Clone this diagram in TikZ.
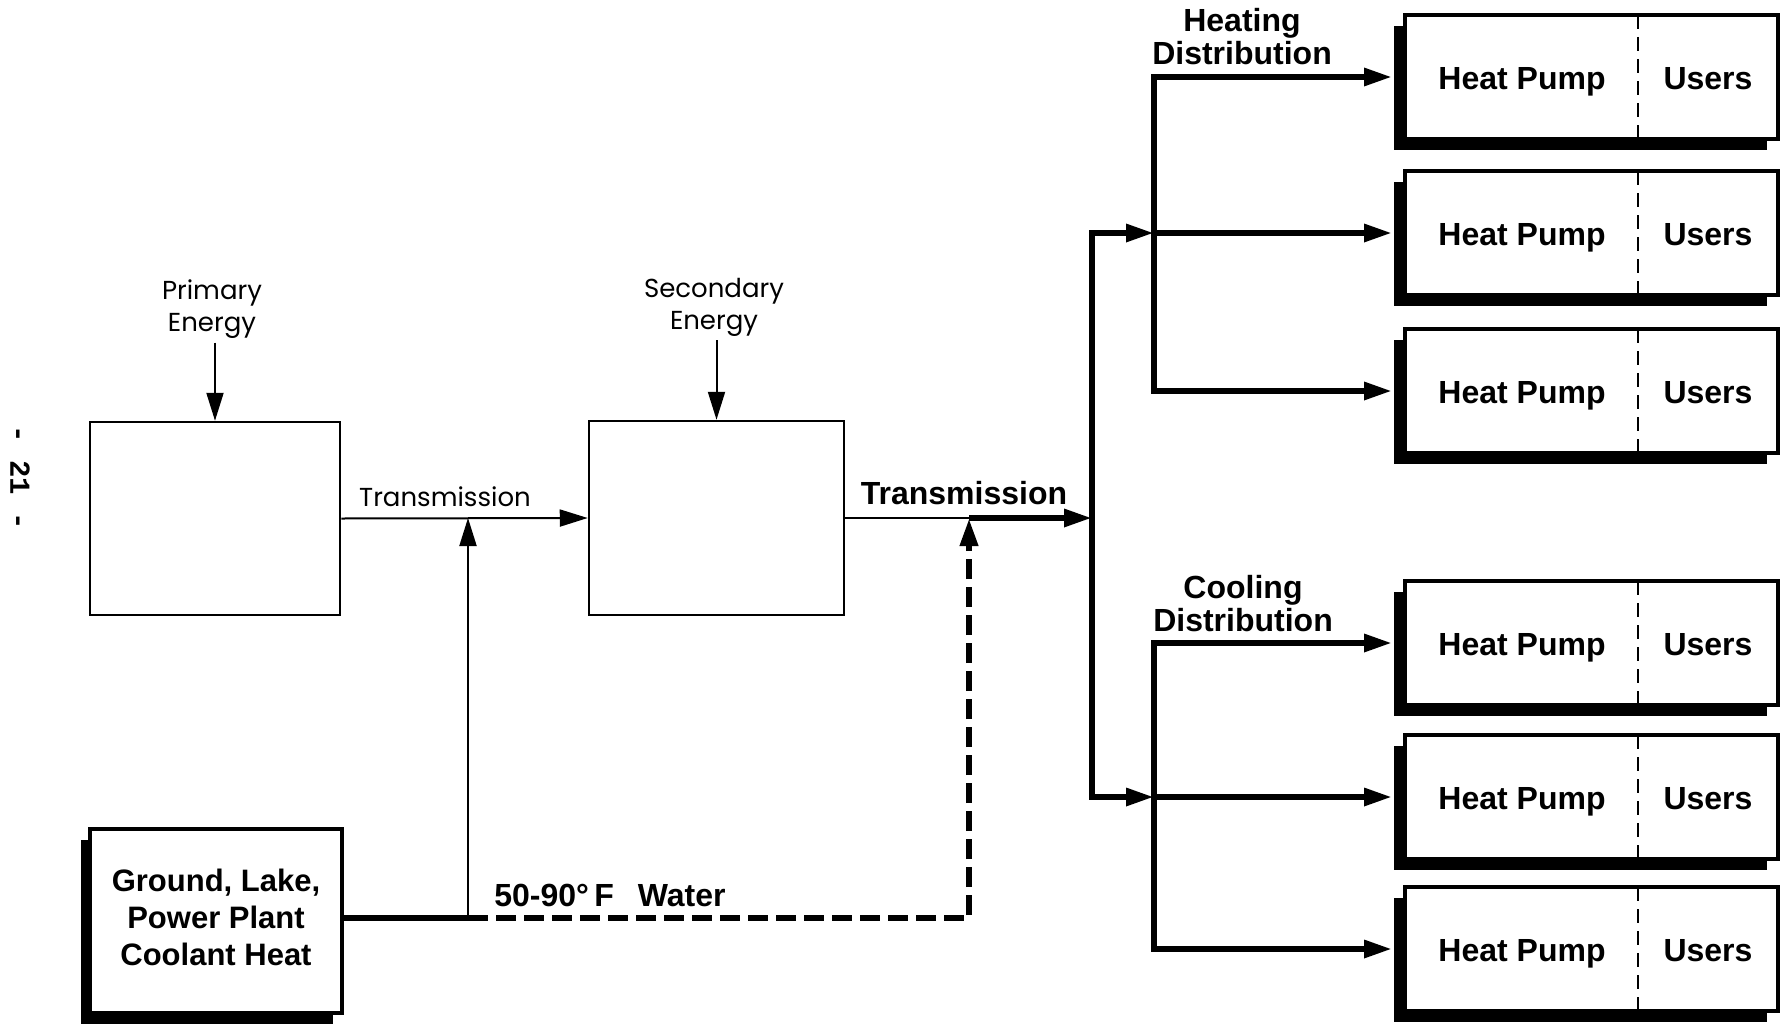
\documentclass[tikz,border=0pt]{standalone}
\usepackage{fontspec}
\setmainfont{Liberation Sans}
\newfontfamily\thinfont{Poppins}
\newfontfamily\pagefont{Liberation Mono}
\usetikzlibrary{arrows.meta,shadows}
\tikzset{
  thinln/.style={line width=2pt},
  thkln/.style={line width=6pt},
  tip/.style={-{Triangle[length=28pt,width=17pt]}},
  tipboth/.style={{Triangle[length=28pt,width=17pt]}-{Triangle[length=28pt,width=17pt]}},
  plainbox/.style={draw, line width=2.5pt, fill=white, inner sep=0pt},
  hpbox/.style={draw, line width=4pt, fill=white, minimum width=373pt, minimum height=124pt, inner sep=0pt,
    drop shadow={shadow xshift=-11pt, shadow yshift=-11pt, fill=black, opacity=1}},
  coolbox/.style={draw, line width=3.5pt, fill=white, minimum width=252pt, minimum height=184pt, inner sep=0pt,
    drop shadow={shadow xshift=-9pt, shadow yshift=-11pt, fill=black, opacity=1}},
  cooltext/.style={align=center, inner sep=0pt, font=\fontsize{31}{37}\selectfont\bfseries},
  boldlbl/.style={font=\fontsize{32}{33}\selectfont\bfseries, align=center, inner sep=0pt},
  hplbl/.style={font=\fontsize{32}{33}\selectfont\bfseries, inner sep=0pt, anchor=base},
  thinlbl/.style={font=\thinfont\fontsize{26}{32}\selectfont, align=center, inner sep=0pt},
  divider/.style={line width=2pt, dash pattern=on 14pt off 8pt},
  dashln/.style={line width=6.5pt, dash pattern=on 20pt off 8pt},
}
\begin{document}
\begin{tikzpicture}[x=1pt,y=-1pt]
\useasboundingbox[fill=white] (0,0) rectangle (1784,1025);

% page number
\node[font=\pagefont\bfseries\fontsize{29}{29}\selectfont, rotate=-90, inner sep=0pt] (pgno) at (20,478) {- 21 -};

% main boxes
\node[plainbox, minimum width=250pt, minimum height=193pt] (prim) at (215,518.5) {};
\node[plainbox, minimum width=255pt, minimum height=194pt] (sec) at (716.5,518) {};
\node[coolbox] (cool) at (216,921) {};
\node[cooltext] (cooltxt) at (216,917) {Ground, Lake,\\Power Plant\\Coolant Heat};

% labels
\node[thinlbl] (primlbl) at (212,309) {Primary\\Energy};
\node[thinlbl] (seclbl) at (714,307) {Secondary\\Energy};
\node[thinlbl] (trlbl) at (445,497) {Transmission};
\node[boldlbl] (trbold) at (964,493) {Transmission};
\node[boldlbl] (water) at (610,895) {50-90°\,F\hspace{24pt}Water};
\node[boldlbl] (heatlbl) at (1242,36.5) {Heating\\Distribution};
\node[boldlbl] (coollbl) at (1243,603.5) {Cooling\\Distribution};

% heat pump boxes
\foreach \n/\yy in {1/77,2/233,3/391,4/643,5/797,6/949}{
  \node[hpbox] (hp\n) at (1591.5,\yy) {};
  \draw[divider] (1638,\yy-62) -- (1638,\yy+62);
  \node[hplbl] (hpt\n) at (1522,\yy+12) {Heat Pump};
  \node[hplbl] (usr\n) at (1708,\yy+12) {Users};
}

% junction coordinates
\coordinate (j0) at (468,518);
\coordinate (j1) at (468,918);
\coordinate (j2) at (969,918);
\coordinate (j3) at (969,518);
\coordinate (bt) at (1092,518);
\coordinate (busTop) at (1092,233);
\coordinate (busBot) at (1092,797);
\coordinate (hv1) at (1154,77);
\coordinate (hv2) at (1154,233);
\coordinate (hv3) at (1154,391);
\coordinate (cv1) at (1154,643);
\coordinate (cv2) at (1154,797);
\coordinate (cv3) at (1154,949);

% energy inputs
\draw[thinln,tip] (primlbl.south -| prim.north) ++(0,4) -- (prim.north);
\draw[thinln,tip] (seclbl.south -| sec.north) ++(0,4) -- (sec.north);

% transmission
\draw[thinln,tip] (prim.east) -- (sec.west);
\draw[thkln] (j1 -| cool.east) -- (j1);
\draw[thinln,tip] (j1) -- (j0);
\draw[dashln,tip] (j1) -- (j2) -- (j3);
\draw[thinln] (sec.east) -- (j3);
\draw[thkln,tip] (j3) -- (bt);

% bus
\draw[thkln,tipboth] (hv2) -- (busTop) -- (busBot) -- (cv2);
\draw[thkln,tip] (hv2) -- ([xshift=-11pt]hp2.west);
\draw[thkln,tip] (cv2) -- ([xshift=-11pt]hp5.west);

% heating distribution
\draw[thkln,tipboth] ([xshift=-11pt]hp1.west) -- (hv1) -- (hv3) -- ([xshift=-11pt]hp3.west);
% cooling distribution
\draw[thkln,tipboth] ([xshift=-11pt]hp4.west) -- (cv1) -- (cv3) -- ([xshift=-11pt]hp6.west);
\end{tikzpicture}
\end{document}
